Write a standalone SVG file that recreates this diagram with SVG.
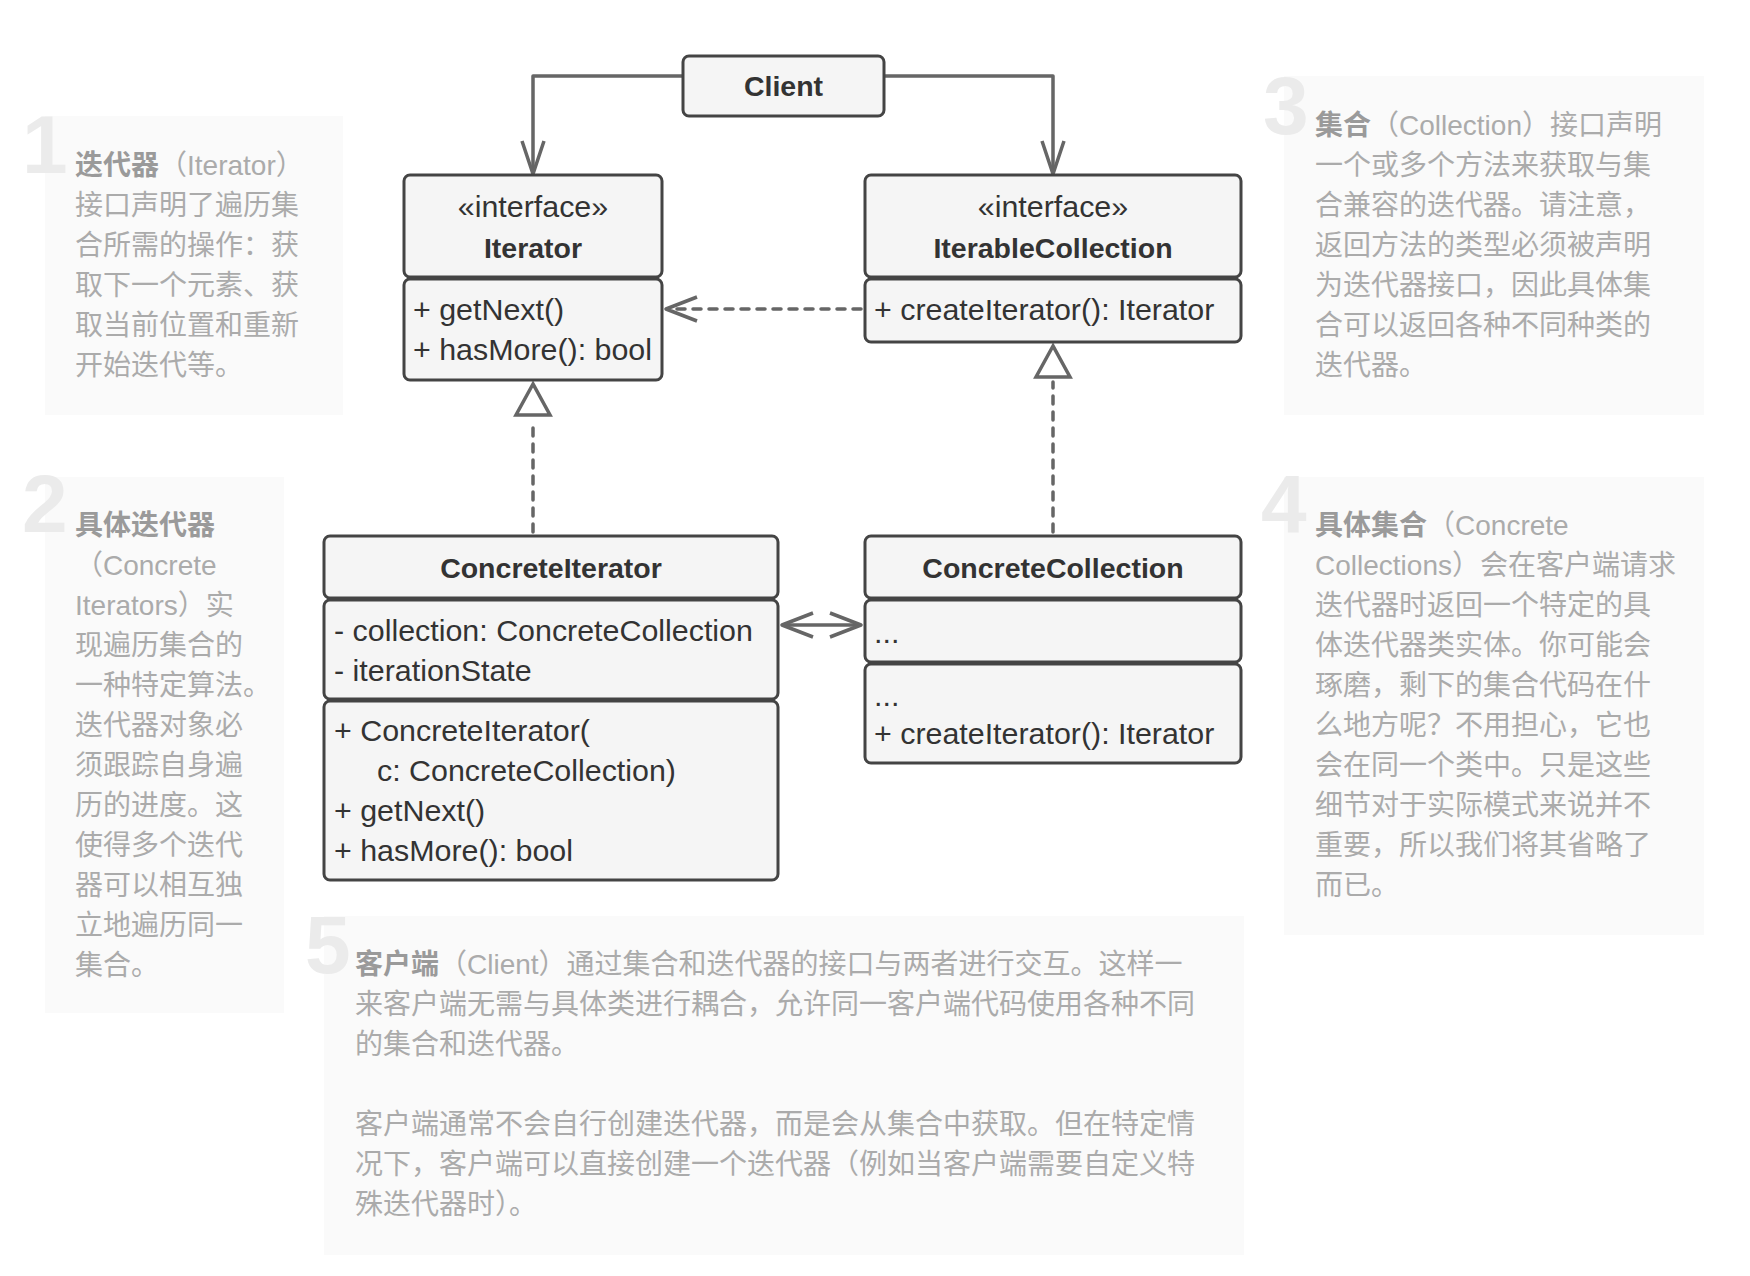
<svg xmlns="http://www.w3.org/2000/svg" width="1750" height="1276" viewBox="0 0 1750 1276">
<style>
.bg{fill:#ffffff}
.box{fill:#f5f5f5;stroke:#444;stroke-width:3}
.t{font-family:"Liberation Sans",Arial,sans-serif;font-size:30.4px;fill:#333}
.c{text-anchor:middle}
.b{font-weight:bold;font-size:28.5px}
.panel{fill:#fafafa}
.num{font-family:"Liberation Sans",Arial,sans-serif;font-weight:bold;font-size:82px;fill:#ebebeb}
.p{font-family:"Liberation Sans","Noto Sans CJK SC",sans-serif;font-size:28px;fill:#ababab}
.pb{font-weight:bold;fill:#9a9a9a}
.ln{fill:none;stroke:#666;stroke-width:3.5;stroke-linejoin:round}
.dash{fill:none;stroke:#666;stroke-width:3.5;stroke-dasharray:8 8;stroke-linecap:round}
.tri{fill:#fff;stroke:#666;stroke-width:3.5;stroke-linejoin:miter}
</style>
<rect class="bg" x="0" y="0" width="1750" height="1276"/>

<g id="note1">
<rect class="panel" x="45" y="116" width="298" height="299"/>
<text class="num" x="22" y="173">1</text>
<text class="p" x="75" y="175"><tspan class="pb">迭代器</tspan>（Iterator）</text>
<text class="p" x="75" y="215">接口声明了遍历集</text>
<text class="p" x="75" y="255">合所需的操作：获</text>
<text class="p" x="75" y="295">取下一个元素、获</text>
<text class="p" x="75" y="335">取当前位置和重新</text>
<text class="p" x="75" y="375">开始迭代等。</text>
</g>

<g id="note2">
<rect class="panel" x="45" y="477" width="239" height="536"/>
<text class="num" x="22" y="532">2</text>
<text class="p" x="75" y="535"><tspan class="pb">具体迭代器</tspan></text>
<text class="p" x="75" y="575">（Concrete</text>
<text class="p" x="75" y="615">Iterators）实</text>
<text class="p" x="75" y="655">现遍历集合的</text>
<text class="p" x="75" y="695">一种特定算法。</text>
<text class="p" x="75" y="735">迭代器对象必</text>
<text class="p" x="75" y="775">须跟踪自身遍</text>
<text class="p" x="75" y="815">历的进度。这</text>
<text class="p" x="75" y="855">使得多个迭代</text>
<text class="p" x="75" y="895">器可以相互独</text>
<text class="p" x="75" y="935">立地遍历同一</text>
<text class="p" x="75" y="975">集合。</text>
</g>

<g id="note3">
<rect class="panel" x="1284" y="76" width="420" height="339"/>
<text class="num" x="1263" y="134">3</text>
<text class="p" x="1315" y="135"><tspan class="pb">集合</tspan>（Collection）接口声明</text>
<text class="p" x="1315" y="175">一个或多个方法来获取与集</text>
<text class="p" x="1315" y="215">合兼容的迭代器。请注意，</text>
<text class="p" x="1315" y="255">返回方法的类型必须被声明</text>
<text class="p" x="1315" y="295">为迭代器接口，因此具体集</text>
<text class="p" x="1315" y="335">合可以返回各种不同种类的</text>
<text class="p" x="1315" y="375">迭代器。</text>
</g>

<g id="note4">
<rect class="panel" x="1284" y="477" width="420" height="458"/>
<text class="num" x="1261" y="532">4</text>
<text class="p" x="1315" y="535"><tspan class="pb">具体集合</tspan>（Concrete</text>
<text class="p" x="1315" y="575">Collections）会在客户端请求</text>
<text class="p" x="1315" y="615">迭代器时返回一个特定的具</text>
<text class="p" x="1315" y="655">体迭代器类实体。你可能会</text>
<text class="p" x="1315" y="695">琢磨，剩下的集合代码在什</text>
<text class="p" x="1315" y="735">么地方呢？不用担心，它也</text>
<text class="p" x="1315" y="775">会在同一个类中。只是这些</text>
<text class="p" x="1315" y="815">细节对于实际模式来说并不</text>
<text class="p" x="1315" y="855">重要，所以我们将其省略了</text>
<text class="p" x="1315" y="895">而已。</text>
</g>

<g id="note5">
<rect class="panel" x="324" y="916" width="920" height="339"/>
<text class="num" x="305" y="973">5</text>
<text class="p" x="355" y="974"><tspan class="pb">客户端</tspan>（Client）通过集合和迭代器的接口与两者进行交互。这样一</text>
<text class="p" x="355" y="1014">来客户端无需与具体类进行耦合，允许同一客户端代码使用各种不同</text>
<text class="p" x="355" y="1054">的集合和迭代器。</text>
<text class="p" x="355" y="1134">客户端通常不会自行创建迭代器，而是会从集合中获取。但在特定情</text>
<text class="p" x="355" y="1174">况下，客户端可以直接创建一个迭代器（例如当客户端需要自定义特</text>
<text class="p" x="355" y="1214">殊迭代器时）。</text>
</g>

<g id="connectors">
<path class="ln" d="M683,76 H533 V173"/>
<path class="ln" d="M522,141 L533,174 L544,141"/>
<path class="ln" d="M884,76 H1053 V173"/>
<path class="ln" d="M1042,141 L1053,174 L1064,141"/>
<path class="dash" d="M861,309 H672"/>
<path class="ln" d="M697,297 L666,309 L697,321"/>
<path class="dash" d="M533,532 V420"/>
<polygon class="tri" points="533,384 516,415 550,415"/>
<path class="dash" d="M1053,532 V382"/>
<polygon class="tri" points="1053,346 1036,377 1070,377"/>
<path class="ln" d="M782,625 H861"/>
<path class="ln" d="M813,613 L782,625 L813,637"/>
<path class="ln" d="M830,613 L861,625 L830,637"/>
</g>

<g id="client">
<rect class="box" x="683" y="56" width="201" height="60" rx="6"/>
<text class="t b c" x="783.5" y="96">Client</text>
</g>

<g id="iterator">
<rect class="box" x="404" y="175" width="258" height="102" rx="6"/>
<rect class="box" x="404" y="279" width="258" height="101" rx="6"/>
<text class="t c" x="533" y="217">«interface»</text>
<text class="t b c" x="533" y="258">Iterator</text>
<text class="t" x="413" y="320">+ getNext()</text>
<text class="t" x="413" y="360">+ hasMore(): bool</text>
</g>

<g id="iterableCollection">
<rect class="box" x="865" y="175" width="376" height="102" rx="6"/>
<rect class="box" x="865" y="279" width="376" height="63" rx="6"/>
<text class="t c" x="1053" y="217">«interface»</text>
<text class="t b c" x="1053" y="258">IterableCollection</text>
<text class="t" x="874" y="320">+ createIterator(): Iterator</text>
</g>

<g id="concreteIterator">
<rect class="box" x="324" y="536" width="454" height="62" rx="6"/>
<rect class="box" x="324" y="600" width="454" height="99" rx="6"/>
<rect class="box" x="324" y="701" width="454" height="179" rx="6"/>
<text class="t b c" x="551" y="578">ConcreteIterator</text>
<text class="t" x="334" y="641">- collection: ConcreteCollection</text>
<text class="t" x="334" y="681">- iterationState</text>
<text class="t" x="334" y="741">+ ConcreteIterator(</text>
<text class="t" x="377" y="781">c: ConcreteCollection)</text>
<text class="t" x="334" y="821">+ getNext()</text>
<text class="t" x="334" y="861">+ hasMore(): bool</text>
</g>

<g id="concreteCollection">
<rect class="box" x="865" y="536" width="376" height="62" rx="6"/>
<rect class="box" x="865" y="600" width="376" height="62" rx="6"/>
<rect class="box" x="865" y="664" width="376" height="99" rx="6"/>
<text class="t b c" x="1053" y="578">ConcreteCollection</text>
<text class="t" x="874" y="643">...</text>
<text class="t" x="874" y="706">...</text>
<text class="t" x="874" y="744">+ createIterator(): Iterator</text>
</g>
</svg>
